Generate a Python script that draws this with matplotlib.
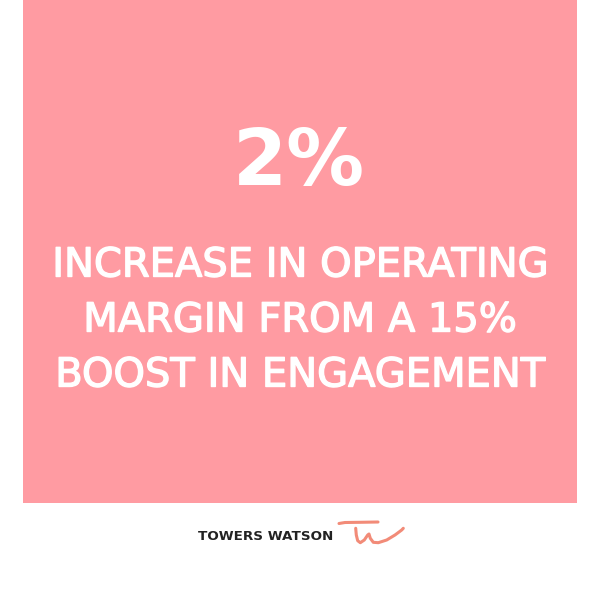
import matplotlib.pyplot as plt
import matplotlib.patheffects as pe
import numpy as np

big_number = "2%"
caption_lines = ["INCREASE IN OPERATING", "MARGIN FROM A 15%", "BOOST IN ENGAGEMENT"]
logo_text = "TOWERS WATSON"

pink = "#FF9BA2"
salmon = "#F28B78"

# logo swoosh path (pixel coords)
bar_x = [339, 345, 360, 378]
bar_y = [523.5, 522.5, 522.3, 522.0]
w_x = [355.7, 356.3, 357.7, 360.3, 364.3, 367.7, 369.0, 370.3, 373.3, 378.3, 386.7, 395.0, 401.7, 403.3]
w_y = [528.3, 535.0, 540.7, 542.7, 540.0, 535.0, 534.0, 538.3, 542.3, 542.7, 540.0, 535.0, 530.0, 528.3]

fig = plt.figure(figsize=(6, 6), dpi=100)
ax = fig.add_axes([0, 0, 1, 1])
ax.set_xlim(0, 600)
ax.set_ylim(600, 0)
ax.axis("off")

ax.add_patch(plt.Rectangle((23, 0), 554, 503, color=pink, lw=0))

ax.text(299, 163, big_number, color="white", fontsize=56, fontweight="heavy",
        family="DejaVu Sans", ha="center", va="center")

# thicken the caption strokes a little (reference uses a medium weight)
thick = [pe.withStroke(linewidth=1.0, foreground="white")]
for i, line in enumerate(caption_lines):
    ax.text(300, 265.5 + i * 55, line, color="white", fontsize=28.8,
            family="DejaVu Sans", ha="center", va="center", path_effects=thick)

ax.text(265.5, 536, logo_text, color="#222222", fontsize=9.7, fontweight="bold",
        family="DejaVu Sans", ha="center", va="center")
ax.plot(bar_x, bar_y, color=salmon, lw=2.2, solid_capstyle="round")
ax.plot(w_x, w_y, color=salmon, lw=2.2, solid_capstyle="round", solid_joinstyle="round")

fig.savefig("out.png", dpi=100, facecolor="white")
